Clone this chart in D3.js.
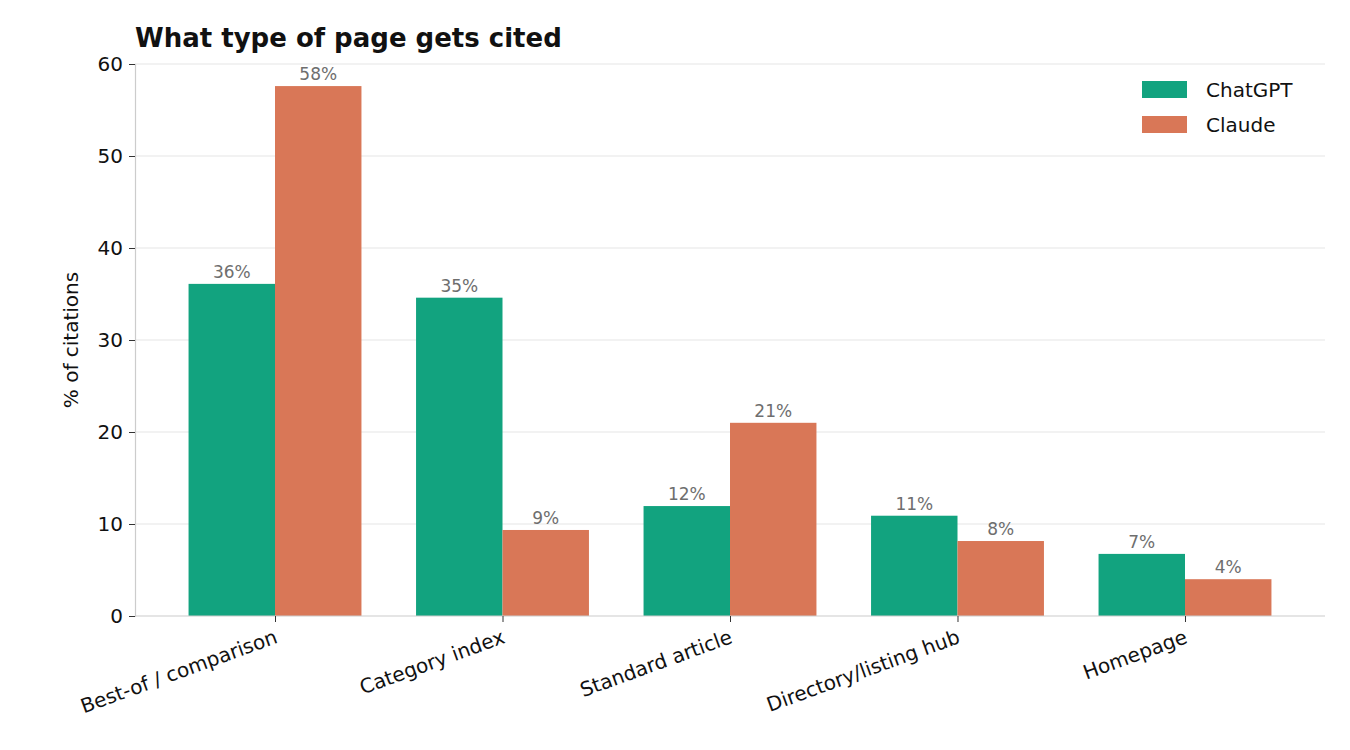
<!DOCTYPE html>
<html><head><meta charset="utf-8">
<script src="https://cdn.jsdelivr.net/npm/d3@7"></script>
<style>body{margin:0;background:#fff;font-family:"DejaVu Sans",sans-serif;}</style>
</head><body>
<script>
// chart data
var categories = ["Best-of / comparison", "Category index", "Standard article", "Directory/listing hub", "Homepage"];
var chatgpt = [36.1, 34.6, 11.95, 10.9, 6.75];
var claude = [57.6, 9.35, 21.0, 8.15, 4.0];
var series = [{name: "ChatGPT", values: chatgpt, color: "#12a37f"},
              {name: "Claude", values: claude, color: "#d97757"}];
var yTicks = [0, 10, 20, 30, 40, 50, 60];

var width = 1350, height = 750;
var plot = {left: 135, right: 1325, top: 64, bottom: 616};

var svg = d3.select("body").append("svg")
    .attr("width", width).attr("height", height);

var x = d3.scaleLinear().domain([-0.6154, 4.6154]).range([plot.left, plot.right]);
var y = d3.scaleLinear().domain([0, 60]).range([plot.bottom, plot.top]);
var barW = x(0.38) - x(0);

// grid
svg.append("g").selectAll("line").data(yTicks.slice(1)).enter().append("line")
    .attr("x1", plot.left).attr("x2", plot.right)
    .attr("y1", function(d){ return y(d); }).attr("y2", function(d){ return y(d); })
    .attr("stroke", "#e6e6e6").attr("stroke-width", 1.2);

// bars
series.forEach(function(s, si){
    var off = si == 0 ? -barW : 0;
    var g = svg.append("g");
    g.selectAll("rect").data(s.values).enter().append("rect")
        .attr("x", function(d, i){ return x(i) + off; })
        .attr("y", function(d){ return y(d); })
        .attr("width", barW)
        .attr("height", function(d){ return y(0) - y(d); })
        .attr("fill", s.color);
    g.selectAll("text").data(s.values).enter().append("text")
        .attr("x", function(d, i){ return x(i) + off + barW / 2; })
        .attr("y", function(d){ return y(d) - 6; })
        .attr("text-anchor", "middle")
        .attr("font-size", 17).attr("fill", "#6e6e6e")
        .text(function(d){ return Math.round(d) + "%"; });
});

// axes
var yAxis = svg.append("g").attr("transform", "translate(" + plot.left + ",0)")
    .call(d3.axisLeft(y).tickValues(yTicks).tickSize(6).tickPadding(6));
yAxis.select(".domain").attr("stroke", "#cccccc").attr("stroke-width", 1.2);
yAxis.selectAll(".tick line").attr("stroke", "#333");
yAxis.selectAll("text").attr("font-size", 20).attr("fill", "#111").attr("font-family", "DejaVu Sans");

var xAxis = svg.append("g").attr("transform", "translate(0," + plot.bottom + ")")
    .call(d3.axisBottom(x).tickValues(d3.range(categories.length))
        .tickFormat(function(i){ return categories[i]; }).tickSizeOuter(0).tickSize(6));
xAxis.select(".domain").attr("stroke", "#cccccc").attr("stroke-width", 1.2)
    .attr("d", "M" + plot.left + ",0H" + plot.right);
xAxis.selectAll(".tick line").attr("stroke", "#333");
xAxis.selectAll("text").attr("font-size", 20).attr("fill", "#111").attr("font-family", "DejaVu Sans")
    .attr("text-anchor", "end").attr("dy", 0)
    .attr("transform", "translate(0,18) rotate(-20)");

// y label
svg.append("text")
    .attr("transform", "translate(78," + ((plot.top + plot.bottom) / 2) + ") rotate(-90)")
    .attr("text-anchor", "middle").attr("font-size", 20).attr("fill", "#111")
    .text("% of citations");

// title
svg.append("text").attr("x", plot.left).attr("y", 47)
    .attr("font-size", 26).attr("font-weight", "bold").attr("fill", "#111")
    .text("What type of page gets cited");

// legend
var lg = svg.append("g").attr("transform", "translate(1142,81)");
series.forEach(function(s, i){
    lg.append("rect").attr("x", 0).attr("y", i * 35).attr("width", 45).attr("height", 17).attr("fill", s.color);
    lg.append("text").attr("x", 64).attr("y", i * 35 + 16).attr("font-size", 20).attr("fill", "#111").text(s.name);
});
</script>
</body></html>
